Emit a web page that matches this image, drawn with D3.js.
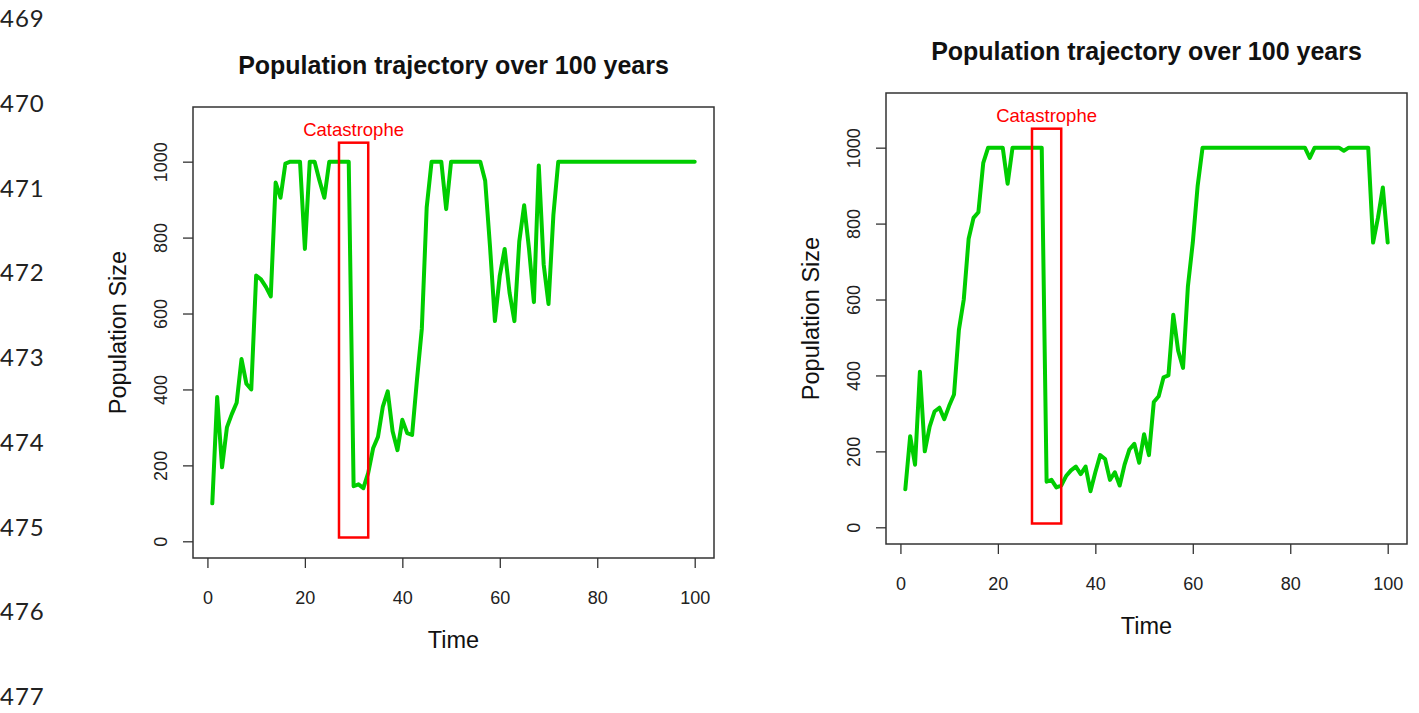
<!DOCTYPE html>
<html>
<head>
<meta charset="utf-8">
<script src="https://d3js.org/d3.v7.min.js"></script>
<style>
  body { margin: 0; background: #fff; }
  svg text { font-family: "Liberation Sans", Arial, sans-serif; fill: #111; }
</style>
</head>
<body>
<script>
// population size per year, read off the two simulated runs
var years = d3.range(1, 101);

var runA = [100, 380, 195, 300, 335, 365, 480, 415, 400, 700,
            690, 670, 645, 945, 905, 995, 1000, 1000, 1000, 770,
            1000, 1000, 950, 905, 1000, 1000, 1000, 1000, 1000, 145,
            150, 140, 180, 245, 275, 355, 395, 290, 240, 320,
            285, 280, 425, 560, 880, 1000, 1000, 1000, 875, 1000,
            1000, 1000, 1000, 1000, 1000, 1000, 950, 775, 580, 700,
            770, 655, 580, 790, 885, 770, 630, 990, 730, 625,
            860, 1000, 1000, 1000, 1000, 1000, 1000, 1000, 1000, 1000,
            1000, 1000, 1000, 1000, 1000, 1000, 1000, 1000, 1000, 1000,
            1000, 1000, 1000, 1000, 1000, 1000, 1000, 1000, 1000, 1000];

var runB = [100, 240, 165, 410, 200, 265, 305, 315, 285, 320,
            350, 520, 600, 760, 815, 830, 960, 1000, 1000, 1000,
            1000, 905, 1000, 1000, 1000, 1000, 1000, 1000, 1000, 120,
            125, 105, 110, 135, 150, 160, 140, 160, 95, 145,
            190, 180, 125, 145, 110, 165, 205, 220, 170, 245,
            190, 330, 345, 395, 400, 560, 465, 420, 635, 750,
            900, 1000, 1000, 1000, 1000, 1000, 1000, 1000, 1000, 1000,
            1000, 1000, 1000, 1000, 1000, 1000, 1000, 1000, 1000, 1000,
            1000, 1000, 1000, 973, 1000, 1000, 1000, 1000, 1000, 1000,
            992, 1000, 1000, 1000, 1000, 1000, 750, 815, 895, 750];

var xTicks = [0, 20, 40, 60, 80, 100];
var yTicks = [0, 200, 400, 600, 800, 1000];

// catastrophe window drawn as a box
var catStart = 27, catEnd = 33, catLow = 10, catHigh = 1050, catLabelAt = 1084;
var catLabel = "Catastrophe";

var title = "Population trajectory over 100 years";
var xTitle = "Time", yTitle = "Population Size";

// document line numbers down the left margin
var docLines = [469, 470, 471, 472, 473, 474, 475, 476, 477];

var svg = d3.select("body").append("svg")
    .attr("width", 1419)
    .attr("height", 713);

var lineY = d3.scaleLinear().domain([469, 477]).range([27, 705]);
svg.append("g").selectAll("text")
    .data(docLines)
  .enter().append("text")
    .attr("x", 0)
    .attr("y", function(d) { return lineY(d); })
    .style("font-family", "Lato, 'Open Sans', sans-serif")
    .style("font-size", "24px")
    .style("letter-spacing", "1px")
    .style("fill", "#222")
    .text(function(d) { return d; });

function panel(left, top, values) {
  var w = 521, h = 451;
  // R pads the data range by 4% on each side
  var x = d3.scaleLinear().domain([1 - 99 * 0.04, 100 + 99 * 0.04]).range([0, w]);
  var y = d3.scaleLinear().domain([0 - 1100 * 0.04, 1100 * 1.04]).range([h, 0]);

  var g = svg.append("g").attr("transform", "translate(" + left + "," + top + ")");

  // title
  g.append("text")
      .attr("x", w / 2)
      .attr("y", -33)
      .attr("text-anchor", "middle")
      .style("font-weight", "bold")
      .style("font-size", "25px")
      .text(title);

  // x axis
  var xa = g.append("g")
      .attr("transform", "translate(0," + h + ")")
      .call(d3.axisBottom(x).tickValues(xTicks).tickFormat(d3.format("d"))
        .tickSize(10).tickPadding(23));
  xa.select(".domain").remove();

  // y axis, labels parallel to the axis
  var ya = g.append("g")
      .call(d3.axisLeft(y).tickValues(yTicks).tickFormat(d3.format("d")).tickSize(10));
  ya.select(".domain").remove();
  ya.selectAll("text")
      .attr("x", null).attr("dy", null)
      .attr("text-anchor", "middle")
      .attr("transform", "translate(-26.5,0) rotate(-90)");

  g.selectAll(".tick line").attr("stroke", "#333").attr("stroke-width", 1.3);
  g.selectAll(".tick text")
      .style("font-family", "'Liberation Sans', Arial, sans-serif")
      .style("font-size", "18px")
      .style("fill", "#222");

  // frame
  g.append("rect")
      .attr("width", w).attr("height", h)
      .attr("fill", "none")
      .attr("stroke", "#333")
      .attr("stroke-width", 1.5);

  // axis titles
  g.append("text")
      .attr("x", w / 2)
      .attr("y", h + 90)
      .attr("text-anchor", "middle")
      .style("font-size", "23.5px")
      .text(xTitle);

  g.append("text")
      .attr("transform", "translate(-67," + (h / 2) + ") rotate(-90)")
      .attr("text-anchor", "middle")
      .style("font-size", "23.5px")
      .text(yTitle);

  // population trajectory
  var line = d3.line()
      .x(function(d, i) { return x(years[i]); })
      .y(function(d) { return y(d); });

  g.append("path")
      .datum(values)
      .attr("d", line)
      .attr("fill", "none")
      .attr("stroke", "#00cd00")
      .attr("stroke-width", 4)
      .attr("stroke-linejoin", "round")
      .attr("stroke-linecap", "round");

  // catastrophe box and its label
  g.append("rect")
      .attr("x", x(catStart))
      .attr("y", y(catHigh))
      .attr("width", x(catEnd) - x(catStart))
      .attr("height", y(catLow) - y(catHigh))
      .attr("fill", "none")
      .attr("stroke", "#ff0000")
      .attr("stroke-width", 2.5);

  g.append("text")
      .attr("x", x((catStart + catEnd) / 2))
      .attr("y", y(catLabelAt))
      .attr("text-anchor", "middle")
      .attr("dominant-baseline", "central")
      .style("font-size", "18.5px")
      .style("fill", "#ff0000")
      .text(catLabel);
}

panel(193, 107, runA);
panel(886, 93, runB);
</script>
</body>
</html>
